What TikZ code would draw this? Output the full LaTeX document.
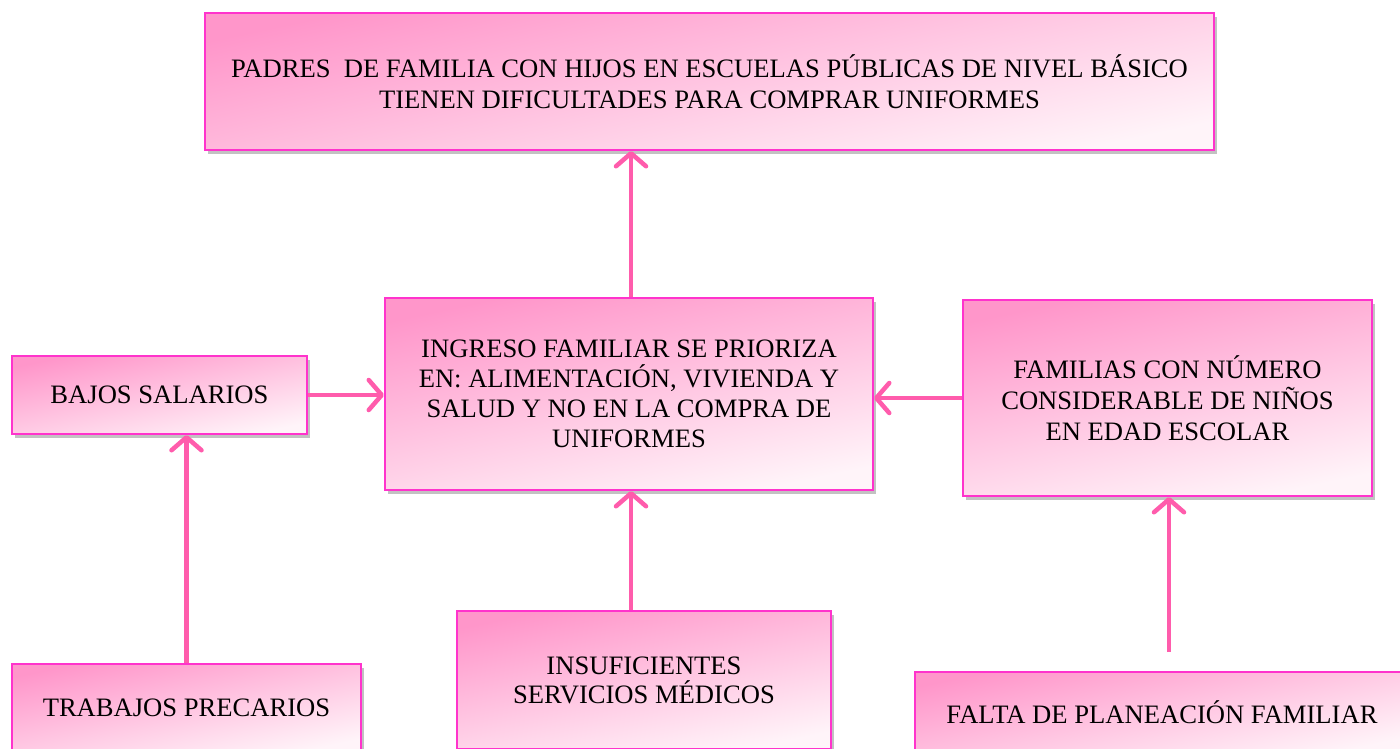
\documentclass[tikz,border=0pt]{standalone}
\usepackage{fontspec}
\setmainfont{Liberation Serif}
\usetikzlibrary{arrows.meta,shadows}
\definecolor{pinkA}{RGB}{255,150,202}
\definecolor{pinkB}{RGB}{255,244,249}
\definecolor{bordermag}{RGB}{255,51,204}
\definecolor{arrpink}{RGB}{255,92,172}
\tikzset{
  box/.style={draw=bordermag, line width=2pt, rectangle, inner sep=4pt,
    top color=pinkA, bottom color=pinkB, shading angle=12,
    drop shadow={shadow xshift=3pt, shadow yshift=-4pt, opacity=0.4, fill=black!60},
    align=center, text=black, font=\fontsize{26.6}{31}\selectfont},
  arr/.style={draw=arrpink, line width=4.5pt,
    -{Straight Barb[length=13pt,width=30pt,line cap=round,line join=round]}}
}
\begin{document}
\begin{tikzpicture}[x=1pt,y=-1pt]
\useasboundingbox (0,0) rectangle (1400,748);
\clip (0,0) rectangle (1400,748);
\node[box, minimum width=1009pt, minimum height=137pt] (top) at (709.5,81.5)
  {PADRES~ DE FAMILIA CON HIJOS EN ESCUELAS PÚBLICAS DE NIVEL BÁSICO\\TIENEN DIFICULTADES PARA COMPRAR UNIFORMES};
\node[box, minimum width=488pt, minimum height=192pt, font=\fontsize{26.6}{30}\selectfont] (center) at (629,394)
  {INGRESO FAMILIAR SE PRIORIZA\\EN: ALIMENTACIÓN, VIVIENDA Y\\SALUD Y NO EN LA COMPRA DE\\UNIFORMES};
\node[box, minimum width=295pt, minimum height=78pt] (bajos) at (159.5,395) {BAJOS SALARIOS};
\node[box, minimum width=409pt, minimum height=196pt] (fam) at (1167.5,398)
  {FAMILIAS CON NÚMERO\\CONSIDERABLE DE NIÑOS\\EN EDAD ESCOLAR};
\node[box, minimum width=349pt, minimum height=88pt] (trab) at (186.5,708) {TRABAJOS PRECARIOS};
\node[box, minimum width=374pt, minimum height=138pt, font=\fontsize{26.6}{29}\selectfont] (insuf) at (644,680)
  {INSUFICIENTES\\SERVICIOS MÉDICOS};
\node[box, minimum width=494pt, minimum height=80pt] (falta) at (1162,712) {FALTA DE PLANEACIÓN FAMILIAR};
\coordinate (fstart) at (1169,652);
\draw[arr] ([xshift=2pt]center.north) -- ([xshift=2pt]center.north |- top.south);
\draw[arr] (bajos.east) -- (bajos.east -| center.west);
\draw[arr] (fam.west) -- (fam.west -| center.east);
\draw[arr] ([xshift=2pt]center.south |- insuf.north) -- ([xshift=2pt]center.south);
\draw[arr] (trab.north) -- (trab.north |- bajos.south);
\draw[arr] (fstart) -- (fstart |- fam.south);
\end{tikzpicture}
\end{document}
